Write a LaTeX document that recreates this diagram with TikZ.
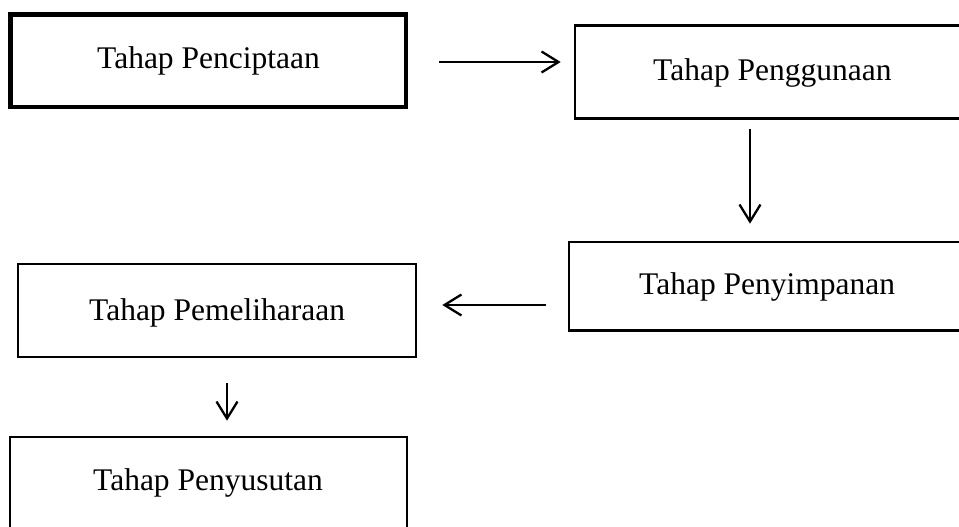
\documentclass[tikz,border=0pt]{standalone}
\usepackage{fontspec}
\setmainfont{Liberation Serif}
\usetikzlibrary{arrows.meta}
\begin{document}
\begin{tikzpicture}[x=1pt,y=-1pt,
  box/.style={draw=black, line width=2.6pt, rectangle, inner sep=0pt, fill=none},
  thickbox/.style={box, line width=4.2pt},
  lbl/.style={anchor=base west, inner sep=0pt, font=\fontsize{31.5}{38}\selectfont},
  arr/.style={draw=black, line width=2.3pt, -{Straight Barb[length=17pt,width=21pt,line width=2.3pt]}}]
\useasboundingbox (0,0) rectangle (959,527);
% boxes
\node[thickbox, minimum width=395.5pt, minimum height=92.5pt] (b1) at (208.25,60.75) {};
\node[box, minimum width=396pt, minimum height=93pt] (b2) at (773,72) {};
\node[box, minimum width=396pt, minimum height=88.5pt] (b3) at (767,286.25) {};
\node[box, minimum width=398pt, minimum height=93pt] (b4) at (217,310.5) {};
\node[box, minimum width=397pt, minimum height=93pt] (b5) at (208.5,483.5) {};
% texts
\node[lbl] (t1) at (97,69) {Tahap Penciptaan};
\node[lbl] (t2) at (653,81) {Tahap Penggunaan};
\node[lbl] (t3) at (639,294) {Tahap Penyimpanan};
\node[lbl] (t4) at (89,320) {Tahap Pemeliharaan};
\node[lbl] (t5) at (93,490) {Tahap Penyusutan};
% helper coordinates
\coordinate (c1) at (0,62);
\coordinate (c2) at (750,0);
\coordinate (c3) at (0,305);
\coordinate (c4) at (227,0);
% arrows
\draw[arr, shorten <=31pt, shorten >=13pt] (b1.east |- c1) -- (b2.west |- c1);
\draw[arr, shorten <=9pt, shorten >=17pt] (b2.south -| c2) -- (b3.north -| c2);
\draw[arr, shorten <=22pt, shorten >=25pt] (b3.west |- c3) -- (b4.east |- c3);
\draw[arr, shorten <=25pt, shorten >=15pt] (b4.south -| c4) -- (b5.north -| c4);
\end{tikzpicture}
\end{document}
